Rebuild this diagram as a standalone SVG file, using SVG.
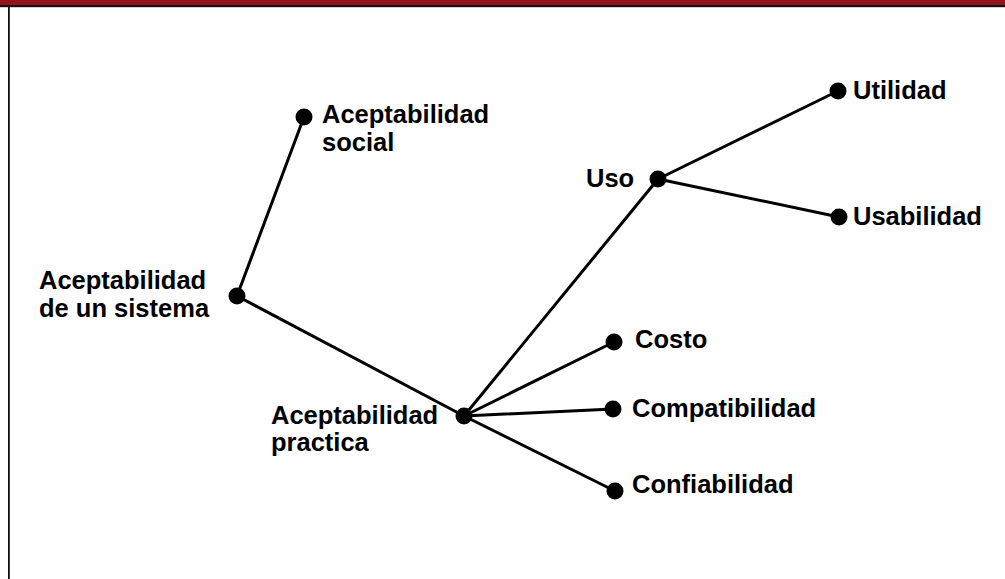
<svg xmlns="http://www.w3.org/2000/svg" width="1005" height="579" viewBox="0 0 1005 579">
  <style>
    .lbl { font-family: "Liberation Sans", Arial, sans-serif; font-weight: bold; font-size: 25.5px; fill: #000; }
    .dot { fill: #000; }
    .edge { stroke: #000; stroke-width: 3; stroke-linecap: round; fill: none; }
  </style>
  <rect x="0" y="0" width="1005" height="579" fill="#fff"/>
  <!-- page frame -->
  <rect x="0" y="0" width="1005" height="5.5" fill="#95131d"/>
  <rect x="0" y="5" width="1005" height="2.2" fill="#111"/>
  <rect x="8" y="6" width="1.8" height="573" fill="#111"/>

  <g id="connectors">
    <line class="edge" x1="237" y1="296" x2="304" y2="117"/>
    <line class="edge" x1="237" y1="296" x2="464" y2="416"/>
    <line class="edge" x1="464" y1="416" x2="658" y2="179"/>
    <line class="edge" x1="464" y1="416" x2="614" y2="342"/>
    <line class="edge" x1="464" y1="416" x2="613" y2="409"/>
    <line class="edge" x1="464" y1="416" x2="615" y2="491"/>
    <line class="edge" x1="658" y1="179" x2="838" y2="91"/>
    <line class="edge" x1="658" y1="179" x2="839" y2="217"/>
  </g>

  <g id="sistema">
    <circle class="dot" cx="237" cy="296" r="8.5"/>
    <text class="lbl" x="39" y="289">Aceptabilidad</text>
    <text class="lbl" x="39" y="317">de un sistema</text>
  </g>
  <g id="social">
    <circle class="dot" cx="304" cy="117" r="8.5"/>
    <text class="lbl" x="322" y="123">Aceptabilidad</text>
    <text class="lbl" x="322" y="151">social</text>
  </g>
  <g id="practica">
    <circle class="dot" cx="464" cy="416" r="8.5"/>
    <text class="lbl" x="271" y="424">Aceptabilidad</text>
    <text class="lbl" x="271" y="451">practica</text>
  </g>
  <g id="uso">
    <circle class="dot" cx="658" cy="179" r="8.5"/>
    <text class="lbl" x="586" y="187">Uso</text>
  </g>
  <g id="utilidad">
    <circle class="dot" cx="838" cy="91" r="8.5"/>
    <text class="lbl" x="853" y="99">Utilidad</text>
  </g>
  <g id="usabilidad">
    <circle class="dot" cx="839" cy="217" r="8.5"/>
    <text class="lbl" x="853" y="225">Usabilidad</text>
  </g>
  <g id="costo">
    <circle class="dot" cx="614" cy="342" r="8.5"/>
    <text class="lbl" x="635" y="348">Costo</text>
  </g>
  <g id="compatibilidad">
    <circle class="dot" cx="613" cy="409" r="8.5"/>
    <text class="lbl" x="632" y="417">Compatibilidad</text>
  </g>
  <g id="confiabilidad">
    <circle class="dot" cx="615" cy="491" r="8.5"/>
    <text class="lbl" x="632" y="493">Confiabilidad</text>
  </g>
</svg>
